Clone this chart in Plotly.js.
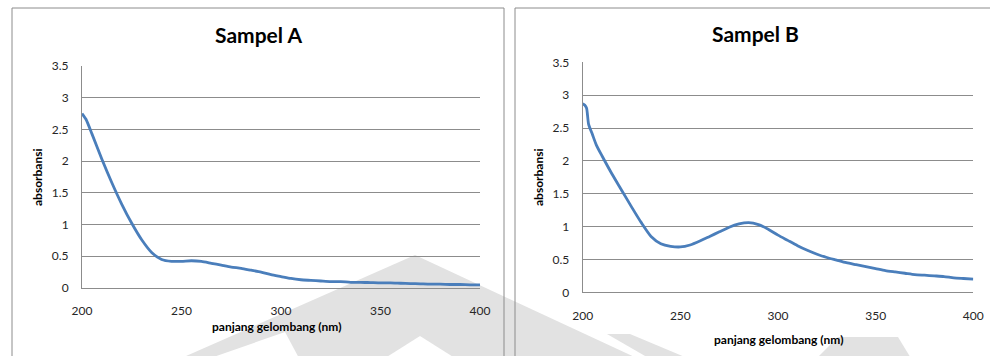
<!DOCTYPE html>
<html>
<head>
<meta charset="utf-8">
<script src="https://cdn.plot.ly/plotly-3.0.1.min.js"></script>
<style>
  html, body { margin: 0; padding: 0; background: #ffffff; }
  #chart { width: 990px; height: 356px; }
</style>
</head>
<body>
<div id="chart"></div>
<script>
// ---- data ----
const chartTitles = ["Sampel A", "Sampel B"];
const xAxisTitle = "panjang gelombang (nm)";
const yAxisTitle = "absorbansi";
const xTickVals = [200, 250, 300, 350, 400];
const yTickVals = [0, 0.5, 1, 1.5, 2, 2.5, 3, 3.5];

const wavelengthA = [200, 202, 205, 210, 215, 220, 225, 230, 235, 240, 245, 250, 255, 260, 265, 270, 275, 280, 285, 290, 295, 300, 305, 310, 315, 320, 325, 330, 335, 340, 345, 350, 355, 360, 365, 370, 375, 380, 385, 390, 395, 400];
const absorbA = [2.75, 2.66, 2.43, 2.03, 1.66, 1.32, 1.02, 0.76, 0.56, 0.45, 0.42, 0.42, 0.43, 0.42, 0.39, 0.36, 0.33, 0.31, 0.28, 0.25, 0.21, 0.18, 0.15, 0.13, 0.12, 0.11, 0.10, 0.10, 0.09, 0.09, 0.085, 0.08, 0.08, 0.075, 0.07, 0.065, 0.06, 0.06, 0.055, 0.055, 0.05, 0.05];

const wavelengthB = [200, 201, 202, 203, 205, 207, 210, 215, 220, 225, 230, 235, 240, 245, 250, 255, 260, 265, 270, 275, 280, 285, 290, 295, 300, 305, 310, 315, 320, 325, 330, 335, 340, 345, 350, 355, 360, 365, 370, 375, 380, 385, 390, 395, 400];
const absorbB = [2.87, 2.85, 2.80, 2.56, 2.40, 2.24, 2.07, 1.80, 1.55, 1.30, 1.06, 0.85, 0.74, 0.70, 0.69, 0.72, 0.78, 0.85, 0.92, 0.99, 1.04, 1.06, 1.03, 0.96, 0.87, 0.79, 0.71, 0.64, 0.58, 0.53, 0.49, 0.45, 0.42, 0.39, 0.36, 0.33, 0.31, 0.29, 0.27, 0.26, 0.25, 0.24, 0.22, 0.21, 0.20];

// ---- layout helpers (pixel -> paper) ----
const W = 990, H = 356;
const px = x => x / W;
const py = y => 1 - y / H;

const FONT = "Lato, 'Open Sans', 'DejaVu Sans', sans-serif";
const lineColor = "#4A7EBB";
const gridColor = "#8C8C8C";
const textColor = "#262626";

const traces = [
  { x: wavelengthA, y: absorbA, type: "scatter", mode: "lines", xaxis: "x", yaxis: "y",
    line: { color: lineColor, width: 2.8, shape: "spline", smoothing: 0.6 }, showlegend: false, hoverinfo: "x+y" },
  { x: wavelengthB, y: absorbB, type: "scatter", mode: "lines", xaxis: "x2", yaxis: "y2",
    line: { color: lineColor, width: 2.8, shape: "spline", smoothing: 0.6 }, showlegend: false, hoverinfo: "x+y" }
];

function xAxis(domain, anchor) {
  return {
    domain: domain, anchor: anchor, range: [200, 400], tickvals: xTickVals,
    showgrid: false, zeroline: false, showline: true, linecolor: gridColor, linewidth: 1,
    ticks: "", ticklabelstandoff: 12, tickfont: { family: FONT, size: 12, color: textColor },
    fixedrange: true
  };
}
function yAxis(domain, anchor) {
  return {
    domain: domain, anchor: anchor, range: [0, 3.5], tickvals: yTickVals,
    showgrid: true, gridcolor: gridColor, gridwidth: 1, zeroline: false,
    showline: true, linecolor: gridColor, linewidth: 1,
    ticks: "", ticklabelstandoff: 10, tickfont: { family: FONT, size: 12, color: textColor },
    fixedrange: true
  };
}

const wmFill = "#E2E2E2";
function poly(points) {
  return "M" + points.map(p => px(p[0]) + "," + py(p[1])).join("L") + "Z";
}

const shapes = [
  // watermark (faint logo behind the charts)
  { type: "path", xref: "paper", yref: "paper", layer: "below", line: { width: 0 }, fillcolor: wmFill,
    path: poly([[177, 360], [415, 255], [641, 360]]) },
  { type: "path", xref: "paper", yref: "paper", layer: "below", line: { width: 0 }, fillcolor: "#FFFFFF",
    path: poly([[205, 360], [285, 332], [300, 360]]) },
  { type: "path", xref: "paper", yref: "paper", layer: "below", line: { width: 0 }, fillcolor: "#FFFFFF",
    path: poly([[382, 360], [420, 336], [458, 360]]) },
  { type: "path", xref: "paper", yref: "paper", layer: "below", line: { width: 0 }, fillcolor: wmFill,
    path: poly([[607, 334], [630, 334], [692, 360], [652, 360]]) },
  { type: "path", xref: "paper", yref: "paper", layer: "below", line: { width: 0 }, fillcolor: wmFill,
    path: poly([[815, 360], [838, 337], [898, 337], [912, 360]]) },
  // chart frames
  { type: "rect", xref: "paper", yref: "paper", layer: "below", x0: px(12), x1: px(504), y0: py(8), y1: py(362),
    line: { color: "#8C8C8C", width: 1 }, fillcolor: "rgba(0,0,0,0)" },
  { type: "rect", xref: "paper", yref: "paper", layer: "below", x0: px(515), x1: px(1000), y0: py(8), y1: py(362),
    line: { color: "#8C8C8C", width: 1 }, fillcolor: "rgba(0,0,0,0)" }
];

function ann(text, x, y, size, bold, angle) {
  return { text: bold ? "<b>" + text + "</b>" : text, xref: "paper", yref: "paper",
    x: px(x), y: py(y), xanchor: "center", yanchor: "middle", showarrow: false,
    textangle: angle || 0, font: { family: FONT, size: size, color: "#000000" } };
}

const annotations = [
  ann(chartTitles[0], 258, 34, 21, true),
  ann(chartTitles[1], 755, 33, 21, true),
  ann(xAxisTitle, 276, 326, 12, true),
  ann(xAxisTitle, 778, 339, 12, true),
  ann(yAxisTitle, 38, 177, 12, true, -90),
  ann(yAxisTitle, 539, 177, 12, true, -90)
];

const layout = {
  width: W, height: H,
  margin: { l: 0, r: 0, t: 0, b: 0, pad: 0 },
  paper_bgcolor: "#FFFFFF", plot_bgcolor: "rgba(0,0,0,0)",
  showlegend: false,
  xaxis: xAxis([px(82), px(480)], "y"),
  yaxis: yAxis([py(288), py(66)], "x"),
  xaxis2: xAxis([px(582.7), px(973.3)], "y2"),
  yaxis2: yAxis([py(292.3), py(62.3)], "x2"),
  shapes: shapes,
  annotations: annotations,
  font: { family: FONT }
};

Plotly.newPlot("chart", traces, layout, { displayModeBar: false, staticPlot: true });
</script>
</body>
</html>
